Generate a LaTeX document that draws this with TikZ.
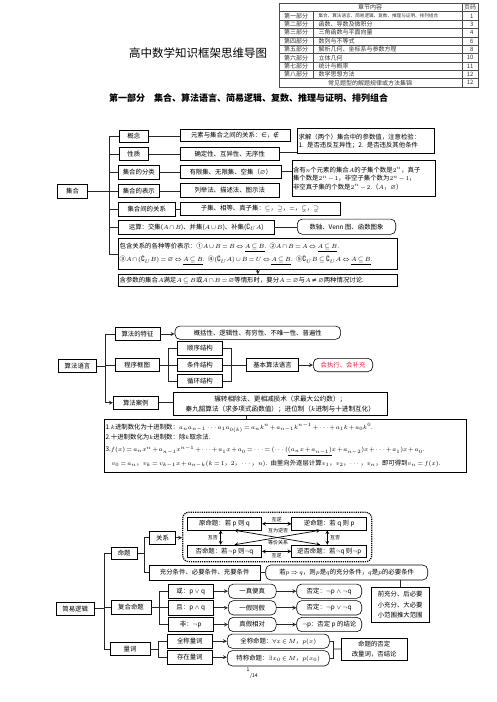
\documentclass[tikz,border=0pt]{standalone}
\usepackage{amsmath, amssymb}
\usepackage{fontspec}
\setmainfont{Noto Sans CJK SC}
\newfontfamily\symfont{DejaVu Sans}
\usetikzlibrary{calc}
\definecolor{hot}{RGB}{222,40,70}
\thickmuskip=3mu plus 2mu
\medmuskip=2mu plus 1mu
\newcommand\boxfont{\fontsize{6.4}{8.5}\selectfont}
\newcommand\labfont{\fontsize{5}{6}\selectfont}
\newcommand\tabfont{\fontsize{6}{7}\selectfont}

\begin{document}
\begin{tikzpicture}[>=stealth, x=1pt, y=-1pt,
    box/.style={draw, line width=0.6pt, inner sep=1pt, font=\boxfont},
    rbox/.style={box, rounded corners=5pt},
    sz/.style 2 args={minimum width=#1pt, minimum height=#2pt},
    ln/.style={line width=0.8pt, black!85},
    lab/.style={font=\labfont, inner sep=0.5pt}]
  \useasboundingbox (0,0) rectangle (496,702);

  % chapter table
  \draw[black!70, line width=0.5pt] (279,3.3) rectangle (478,87);
  \foreach \i in {1,...,9}
    \draw[black!70, line width=0.4pt] (279,{3.3+8.37*\i}) -- (478,{3.3+8.37*\i});
  \draw[black!70, line width=0.4pt] (462,3.3) -- (462,87);
  \draw[black!70, line width=0.4pt] (313,11.67) -- (313,78.63);
  \node[font=\tabfont, text=black!80] (thead) at (370,7.5) {章节内容};
  \node[font=\tabfont, text=black!80] (tpage) at (470,7.5) {页码};
  \foreach \k/\pa/\co/\pg in {1/第一部分/{\fontsize{4.6}{5}\selectfont 集合、算法语言、简易逻辑、复数、推理与证明、排列组合}/1,
      2/第二部分/函数、导数及微积分/3, 3/第三部分/三角函数与平面向量/4, 4/第四部分/数列与不等式/6,
      5/第五部分/解析几何、坐标系与参数方程/8, 6/第六部分/立体几何/10, 7/第七部分/统计与概率/11,
      8/第八部分/数学思想方法/12} {
    \node[font=\tabfont, text=black!80] (tpart\k) at (296,{7.5+8.37*\k}) {\pa};
    \node[font=\tabfont, text=black!80, anchor=west] (tcont\k) at (315,{7.5+8.37*\k}) {\co};
    \node[font=\tabfont, text=black!80, anchor=east] (tnum\k) at (477,{7.5+8.37*\k}) {\pg};
  }
  \node[font=\tabfont, text=black!80] (tlast) at (370,82.8) {常见题型的解题规律或方法集锦};
  \node[font=\tabfont, text=black!80, anchor=east] (tnum9) at (477,82.8) {12};

  \node[font=\fontsize{11.5}{12}\selectfont] (title) at (198,53) {高中数学知识框架思维导图};
  \node[font=\fontsize{9}{10}\selectfont\bfseries] (part1) at (248.5,98)
    {第一部分\quad 集合、算法语言、简易逻辑、复数、推理与证明、排列组合};

  % part one: sets
  \node[box, sz={30}{14}] (jihe) at (72.5,191.3) {集合};
  \node[box, sz={29}{12.7}] (gn) at (133.8,136.3) {概念};
  \node[box, sz={29}{12.7}] (xz) at (133.8,154) {性质};
  \node[box, sz={41}{13.3}] (fl) at (138.8,172.3) {集合的分类};
  \node[box, sz={41}{13.3}] (bs) at (138.8,191) {集合的表示};
  \node[box, sz={56.7}{14}] (gx) at (146.7,209) {集合间的关系};
  \node[box, sz={155.7}{14}] (ys) at (196.2,227) {运算：交集($A\cap B$)、并集($A\cup B$)、补集($\complement_U A$)};
  \node[box, text width=276.4pt, align=left, minimum height=31pt, anchor=north west] (bh) at (118.3,238.3)
    {包含关系的各种等价表示：①$A\cup B=B\Leftrightarrow\underline{A\subseteq B}$.\enspace ②$A\cap B=A\Leftrightarrow\underline{A\subseteq B}$.\\[4.5pt]
     ③$A\cap(\complement_U B)=\varnothing\Leftrightarrow\underline{A\subseteq B}$.\enspace ④$(\complement_U A)\cup B=U\Leftrightarrow\underline{A\subseteq B}$.\enspace ⑤$\complement_U B\subseteq\complement_U A\Leftrightarrow\underline{A\subseteq B}$.};
  \node[box, text width=276.4pt, align=left, minimum height=12pt, anchor=north west] (hcs) at (118.3,274.3)
    {含参数的集合$A$满足$A\subseteq B$或$A\cap B=\varnothing$等情形时，要分$A=\varnothing$与$A$\,{\symfont ≠}\,$\varnothing$两种情况讨论.};

  \node[box, sz={110}{12.4}] (r1) at (235,135.5) {元素与集合之间的关系：{\symfont ∈}，{\symfont ∉}};
  \node[box, sz={99.3}{13}] (r2) at (229.7,154.2) {确定性、互异性、无序性};
  \node[box, sz={101.7}{12.3}] (r3) at (230.8,171.8) {有限集、无限集、空集（$\varnothing$）};
  \node[box, sz={99.3}{14}] (r4) at (229.7,190.3) {列举法、描述法、图示法};
  \node[box, sz={160}{13}] (r5) at (260,208.5) {子集、相等、真子集：$\subseteq$，$\supseteq$，$=$，$\subsetneq$，$\supsetneq$};
  \node[rbox, sz={98.4}{15.3}] (r6) at (346.5,226.7) {数轴、Venn 图、函数图象};
  \node[box, text width=135pt, align=left, minimum height=25pt, anchor=north west] (qj) at (297.3,128.3)
    {求解（两个）集合中的参数值，注意检验：\\1. 是否违反互异性；2. 是否违反其他条件};
  \node[box, text width=141.3pt, align=left, minimum height=36pt, anchor=north west] (zj) at (291.7,160)
    {含有$n$个元素的集合$A$的子集个数是$2^n$，真子\\集个数是$2^n-1$，非空子集个数为$2^n-1$，\\非空真子集的个数是$2^n-2$.（$A$，$\varnothing$）};

  \coordinate (s1) at (109.3,191.3);
  \draw[ln] (jihe) -- (s1);
  \draw[ln] (gn.west -| s1) -- (bh.west -| s1);
  \foreach \n in {gn,xz,fl,bs,gx,ys,bh} \draw[ln] (\n.west -| s1) -- (\n.west);
  \draw[ln] (gn) -- (gn -| r1.west);
  \draw[ln] (xz) -- (xz -| r2.west);
  \draw[ln] (fl) -- (fl -| r3.west);
  \draw[ln] (bs) -- (bs -| r4.west);
  \draw[ln] (gx) -- (gx -| r5.west);
  \draw[ln] (ys) -- (ys -| r6.west);
  \draw[ln] ([yshift=2pt]r2.east) -- ([yshift=2pt]r2.east -| qj.west);
  \draw[ln] (r3.east) -- (r3.east -| zj.west);
  \draw[ln, ->] (bh.south) -- (hcs.north);

  % algorithms
  \node[box, sz={38.4}{13.4}] (sfyy) at (77.5,366) {算法语言};
  \node[box, sz={45}{13.4}] (tz) at (137.5,334) {算法的特征};
  \node[rbox, sz={165.7}{13.3}] (tzr) at (257.8,332.7) {概括性、逻辑性、有穷性、不唯一性、普遍性};
  \node[box, sz={44.3}{13.4}] (cxkt) at (137.2,365) {程序框图};
  \node[box, sz={44.6}{13.3}] (sx) at (200,348.3) {顺序结构};
  \node[box, sz={44.6}{13.3}] (tj) at (200,365) {条件结构};
  \node[box, sz={44.6}{13.3}] (xh) at (200,381) {循环结构};
  \node[box, sz={51.6}{13.4}] (jb) at (272.5,365) {基本算法语言};
  \node[rbox, sz={59.4}{13.4}, text=hot] (hzx) at (343,365) {会执行、会补充};
  \node[box, sz={45}{13.3}] (al) at (135.8,402.7) {算法案例};
  \node[box, sz={214}{22.6}, align=center, font=\fontsize{6.6}{9.5}\selectfont] (alr) at (280.3,404)
    {辗转相除法、更相减损术（求最大公约数）；\\秦九韶算法（求多项式函数值）；进位制（$k$进制与十进制互化）};
  \node[box, text width=360pt, align=left, minimum height=52.7pt, anchor=north west, font=\fontsize{6.4}{10.5}\selectfont] (fm) at (104.3,419)
    {1.$k$进制数化为十进制数：$a_na_{n-1}\cdots a_1a_{0(k)}=a_nk^n+a_{n-1}k^{n-1}+\cdots+a_1k+a_0k^0$.\\
     2.十进制数化为$k$进制数：除$k$取余法.\\[1.5pt]
     3.$f(x)=a_nx^n+a_{n-1}x^{n-1}+\cdots+a_1x+a_0=\cdots=(\cdots(\underline{(a_nx+a_{n-1})}x+a_{n-2})x+\cdots+a_1)x+a_0$.\\[3pt]
     \hspace*{6pt}$v_0=a_n$，$v_k=v_{k-1}x+a_{n-k}(k=1$，$2$，$\cdots$，$n)$. 由里向外逐层计算$v_1$，$v_2$，$\cdots$，$v_n$，即可得到$v_n=f(x)$.};

  \coordinate (s2) at (105.3,366);
  \draw[ln] (sfyy) -- (s2);
  \draw[ln] (tz.west -| s2) -- (al.west -| s2);
  \draw[ln] (tz.west -| s2) -- (tz.west);
  \draw[ln] (cxkt.west -| s2) -- (cxkt.west);
  \draw[ln, ->] (al.west -| s2) -- (al.west);
  \draw[ln, ->] (tz.east) -- (tz.east -| tzr.west);
  \coordinate (b1) at (168.3,365);
  \coordinate (b2) at (231.7,365);
  \draw[ln] (cxkt) -- (b1);
  \draw[ln] (sx.west -| b1) -- (xh.west -| b1);
  \draw[ln] (sx.east -| b2) -- (xh.east -| b2);
  \foreach \n in {sx,tj,xh} {
    \draw[ln] (\n.west -| b1) -- (\n.west);
    \draw[ln] (\n.east) -- (\n.east -| b2);
  }
  \draw[ln] (b2) -- (jb);
  \draw[ln, ->] (jb) -- (hzx);
  \draw[ln] (al.east) -- (al.east -| alr.west);
  \coordinate (d1) at ($(alr.south west)!0.343!(alr.south east)$);
  \draw[ln] (d1) -- (d1 |- fm.north);

  % simple logic
  \node[box, sz={38.3}{12.7}] (jylj) at (75.2,608.7) {简易逻辑};
  \node[box, sz={26.3}{12.3}] (mt) at (124.2,553) {命题};
  \node[box, sz={40}{13.3}] (fh) at (131,607.3) {复合命题};
  \node[box, sz={40}{13.3}] (lc) at (130,649) {量词};
  \node[box, sz={26.4}{13.3}] (gxb) at (162.5,537.7) {关系};
  \node[draw, densely dotted, line width=1.2pt, rounded corners=6pt, sz={189}{49.4}] (gxk) at (277.2,537) {};
  \node[box, sz={74.4}{12.3}] (y1) at (224.5,523.8) {原命题：若 p 则 q};
  \node[box, sz={75}{12.3}] (y2) at (329.2,523.8) {逆命题：若 q 则 p};
  \node[box, sz={74.4}{12.7}] (y3) at (224.5,551.4) {否命题：若$\neg$p 则$\neg$q};
  \node[box, sz={75}{12.7}] (y4) at (329.2,551.4) {逆否命题：若$\neg$q 则$\neg$p};
  \draw[<->, line width=0.7pt] (y1) -- (y2) node[lab, midway, above=1pt] (l1) {互逆};
  \draw[<->, line width=0.7pt] (y3) -- (y4) node[lab, midway, below=1pt] (l2) {互逆};
  \draw[<->, line width=0.7pt] ([xshift=-3.8pt]y1.south) -- ([xshift=-3.8pt]y3.north) node[lab, midway, left=2pt] (l3) {互否};
  \draw[<->, line width=0.7pt] ([xshift=-1.9pt]y2.south) -- ([xshift=-1.9pt]y4.north) node[lab, midway, right=2pt] (l4) {互否};
  \draw[<->, line width=0.7pt] ([xshift=10pt]y1.south) -- ([xshift=-9pt]y4.north);
  \draw[<->, line width=0.7pt] ([xshift=-9pt]y2.south) -- ([xshift=10pt]y3.north);
  \node[lab] (l5) at (278,531) {互为逆否};
  \node[lab] (l6) at (278,542.5) {等价关系};

  \node[box, sz={110.7}{15}] (cf) at (204.7,572.5) {充分条件、必要条件、充要条件};
  \node[rbox, sz={162}{15}] (cfr) at (346.7,572.5) {若$p\Rightarrow q$，则$p$是$q$的充分条件，$q$是$p$的必要条件};
  \node[box, sz={58.3}{35.4}, align=center, font=\fontsize{6.4}{10.5}\selectfont] (qcf) at (400.2,605)
    {前充分、后必要\\小充分、大必要\\小范围推大范围};

  \node[box, sz={45}{14.3}] (huo) at (190.8,591.2) {或：p $\vee$ q};
  \node[box, sz={45}{14.3}] (qie) at (190.8,607.8) {且：p $\wedge$ q};
  \node[box, sz={45}{14.3}] (fei) at (190.8,624.5) {非：$\neg$p};
  \node[rbox, sz={47.7}{14.3}] (yz) at (252.2,591.2) {一真便真};
  \node[rbox, sz={47.7}{14.3}] (yj) at (252.2,607.8) {一假则假};
  \node[rbox, sz={47.7}{14.3}] (zxd) at (252.2,624.5) {真假相对};
  \node[rbox, sz={65}{14.3}] (fd1) at (329.2,591.2) {否定：$\neg$p $\wedge$ $\neg$q};
  \node[rbox, sz={65}{14.3}] (fd2) at (329.2,607.8) {否定：$\neg$p $\vee$ $\neg$q};
  \node[rbox, sz={65}{14.3}] (fd3) at (329.2,624.5) {$\neg$p：否定 p 的结论};

  \node[box, sz={45}{14.3}] (qc) at (189.8,641.2) {全称量词};
  \node[box, sz={45}{14.3}] (cz) at (189.8,657.2) {存在量词};
  \node[rbox, sz={102}{14.3}] (qm) at (278.3,641.2) {全称命题：$\forall x\in M$，$p(x)$};
  \node[rbox, sz={102}{15.3}] (tm) at (278.3,658.3) {特称命题：$\exists x_0\in M$，$p(x_0)$};
  \node[box, sz={66.3}{21.7}, align=center, font=\fontsize{6.4}{10}\selectfont] (fdb) at (374.2,649.2)
    {命题的否定\\改量词，否结论};

  \coordinate (s3) at (104.3,608.7);
  \draw[ln] (jylj) -- (s3);
  \draw[ln] (mt.west -| s3) -- (lc.west -| s3);
  \foreach \n in {mt,fh,lc} \draw[ln] (\n.west -| s3) -- (\n.west);
  \coordinate (b3) at (144,553);
  \draw[ln] (mt) -- (b3);
  \draw[ln] (gxb.west -| b3) -- (cf.west -| b3);
  \foreach \n in {gxb,cf} \draw[ln] (\n.west -| b3) -- (\n.west);
  \draw[ln, ->] (gxb.east) -- (gxb.east -| gxk.west);
  \draw[ln] (cf) -- (cfr);
  \draw[ln] (qcf.north |- cfr.south) -- (qcf.north);
  \coordinate (b4) at (159.3,607.3);
  \draw[ln] (fh) -- (b4);
  \draw[ln] (huo.west -| b4) -- (fei.west -| b4);
  \foreach \a/\b/\c in {huo/yz/fd1, qie/yj/fd2, fei/zxd/fd3} {
    \draw[ln] (\a.west -| b4) -- (\a.west);
    \draw[ln, ->] (\a) -- (\b);
    \draw[ln, ->] (\b) -- (\c);
  }
  \coordinate (b5) at (158.3,649);
  \draw[ln] (lc) -- (b5);
  \draw[ln] (qc.west -| b5) -- (cz.west -| b5);
  \draw[ln] (qc.west -| b5) -- (qc.west);
  \draw[ln] (cz.west -| b5) -- (cz.west);
  \draw[ln, ->] (qc.east) -- (qc.east -| qm.west);
  \draw[ln, ->] (cz.east) -- (cz.east -| tm.west);
  \coordinate (b6) at (333.3,649);
  \draw[ln] (qm.east) -- (qm.east -| b6) -- (tm.east -| b6) -- (tm.east);
  \draw[ln] (b6) -- (fdb);

  \node[font=\fontsize{5}{5}\selectfont, inner sep=0pt] (pga) at (248,670) {1};
  \node[font=\fontsize{5}{5}\selectfont, inner sep=0pt] (pgb) at (254,676) {/14};
\end{tikzpicture}
\end{document}
